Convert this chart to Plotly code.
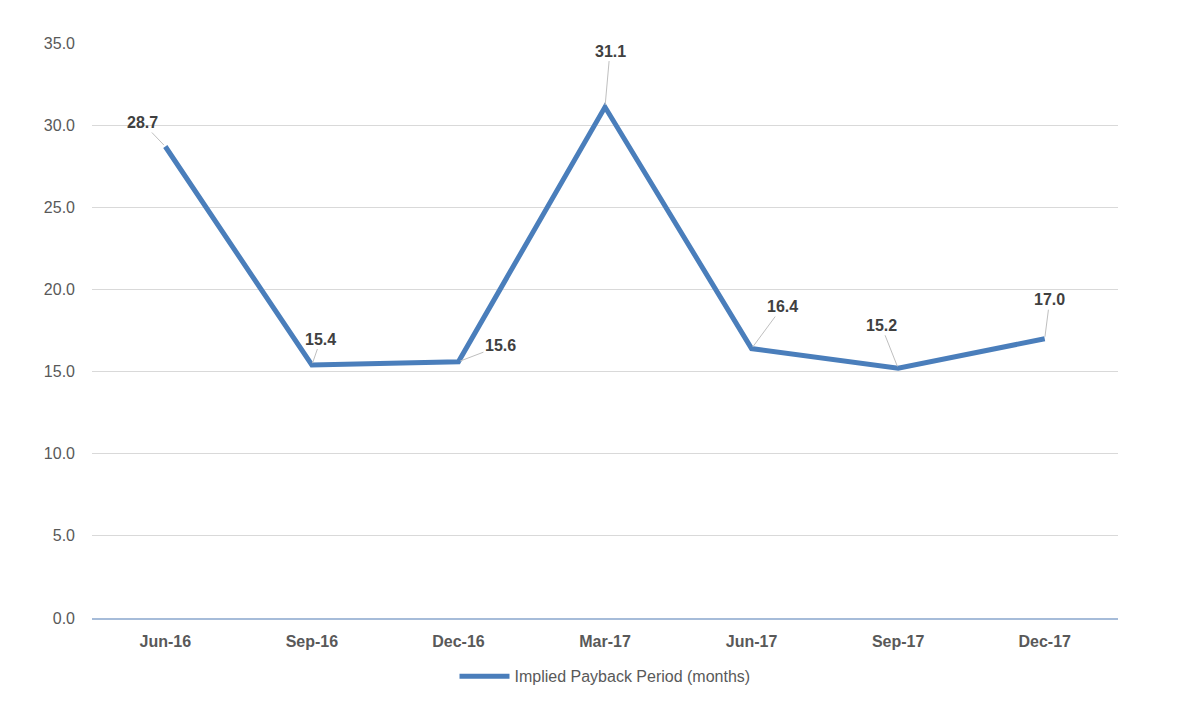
import plotly.graph_objects as go

categories = ["Jun-16", "Sep-16", "Dec-16", "Mar-17", "Jun-17", "Sep-17", "Dec-17"]
payback = [28.7, 15.4, 15.6, 31.1, 16.4, 15.2, 17.0]
series_name = "Implied Payback Period (months)"
y_ticks = [0, 5, 10, 15, 20, 25, 30, 35]

# label offsets (pixels) for leader-line callouts
label_offsets = [(-23, -24), (9, -26), (42, -16), (5, -56), (31, -42), (-17, -43), (5, -39)]

line_color = "#4a7ebb"
FONT = "Liberation Sans, Arial, sans-serif"

fig = go.Figure()
fig.add_trace(go.Scatter(
    x=categories, y=payback, mode="lines", name=series_name,
    line=dict(color=line_color, width=5),
    showlegend=True,
))

for c, v, (ax, ay) in zip(categories, payback, label_offsets):
    fig.add_annotation(
        x=c, y=v, text=f"<b>{v:.1f}</b>", showarrow=True,
        arrowhead=0, arrowwidth=1, arrowcolor="#bfbfbf",
        ax=ax, ay=ay, standoff=2,
        font=dict(family=FONT, size=16, color="#404040"),
    )

fig.update_layout(
    width=1180, height=704,
    margin=dict(l=92, r=62, t=43, b=85),
    paper_bgcolor="white", plot_bgcolor="white",
    font=dict(family=FONT, color="#595959"),
    xaxis=dict(
        type="category", range=[-0.5, len(categories) - 0.5],
        showgrid=False, showline=True, linecolor="#a6bcd9", linewidth=2,
        tickfont=dict(size=16, color="#595959", family=FONT),
        tickprefix="<b>", ticksuffix="</b>", ticks="", ticklabelstandoff=8,
        zeroline=False,
    ),
    yaxis=dict(
        range=[0, 35], tickvals=y_ticks, tickformat=".1f",
        showgrid=True, gridcolor="#d9d9d9", gridwidth=1,
        zeroline=False, showline=False, ticks="",
        tickfont=dict(size=16, color="#595959"),
        ticklabelstandoff=16,
    ),
    legend=dict(
        orientation="h", x=0.5, xanchor="center", y=-0.07, yanchor="top",
        font=dict(size=16, color="#595959"),
        itemwidth=50,
    ),
)

fig.write_html("out.html")
